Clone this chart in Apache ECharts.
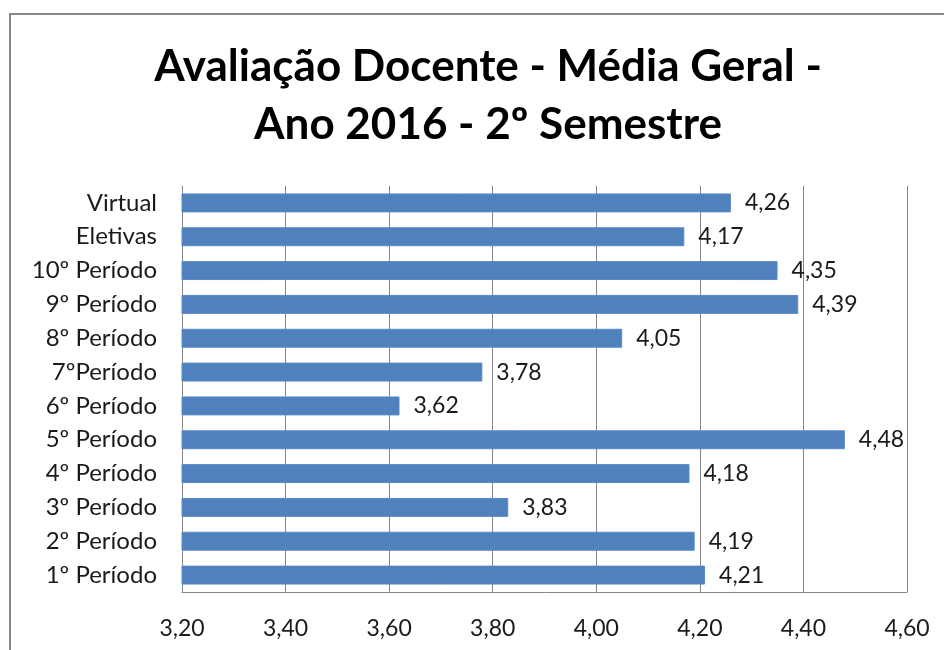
<!DOCTYPE html>
<html>
<head>
<meta charset="utf-8">
<script src="https://cdn.jsdelivr.net/npm/echarts@6/dist/echarts.min.js"></script>
<style>
  html, body { margin: 0; padding: 0; background: #fff; overflow: hidden; }
  #frame { position: absolute; left: 9px; top: 13px; width: 1000px; height: 700px;
           border-left: 2px solid #878787; border-top: 2px solid #878787; }
  #myChart { position: absolute; left: 0; top: 0; width: 944px; height: 650px; }
</style>
</head>
<body>
<div id="frame"></div>
<div id="myChart"></div>
<script>
// categorias de baixo para cima
const categorias = ['1º Período', '2º Período', '3º Período', '4º Período', '5º Período',
  '6º Período', '7ºPeríodo', '8º Período', '9º Período', '10º Período', 'Eletivas', 'Virtual']
const medias = [4.21, 4.19, 3.83, 4.18, 4.48, 3.62, 3.78, 4.05, 4.39, 4.35, 4.17, 4.26]
const eixoMin = 3.2
const eixoMax = 4.6
const eixoPasso = 0.2

const virgula = v => v.toFixed(2).replace('.', ',')
const fonte = 'Lato, "Open Sans", sans-serif'

const myChart = echarts.init(document.getElementById('myChart'), null, { renderer: 'canvas' })
const option = {
  backgroundColor: 'transparent',
  animation: false,
  title: {
    text: 'Avaliação Docente - Média Geral -\nAno 2016 - 2º Semestre',
    left: 483,
    top: 33,
    textAlign: 'center',
    textStyle: {
      fontFamily: fonte,
      fontSize: 44,
      fontWeight: 'bold',
      color: '#000',
      lineHeight: 58
    }
  },
  grid: { left: 182, right: 37, top: 186, bottom: 58 },
  xAxis: {
    type: 'value',
    min: eixoMin,
    max: eixoMax,
    interval: eixoPasso,
    axisLine: { show: true, lineStyle: { color: '#868686', width: 1 } },
    axisTick: { show: false },
    axisLabel: {
      margin: 25,
      fontFamily: fonte,
      fontSize: 23,
      color: '#1a1a1a',
      formatter: v => virgula(v)
    },
    splitLine: { show: true, lineStyle: { color: '#868686', width: 1 } }
  },
  yAxis: {
    type: 'category',
    data: categorias,
    axisLine: { show: true, lineStyle: { color: '#868686', width: 1 } },
    axisTick: { show: false },
    axisLabel: {
      margin: 25,
      fontFamily: fonte,
      fontSize: 24,
      color: '#1a1a1a'
    },
    splitLine: { show: false }
  },
  series: [{
    type: 'bar',
    data: medias,
    barWidth: '56%',
    itemStyle: { color: '#4f81bd', borderColor: '#5a8ac4', borderWidth: 1 },
    label: {
      show: true,
      position: 'right',
      distance: 14,
      fontFamily: fonte,
      fontSize: 23,
      color: '#1a1a1a',
      formatter: p => virgula(p.value)
    }
  }]
}
myChart.setOption(option)
</script>
</body>
</html>
